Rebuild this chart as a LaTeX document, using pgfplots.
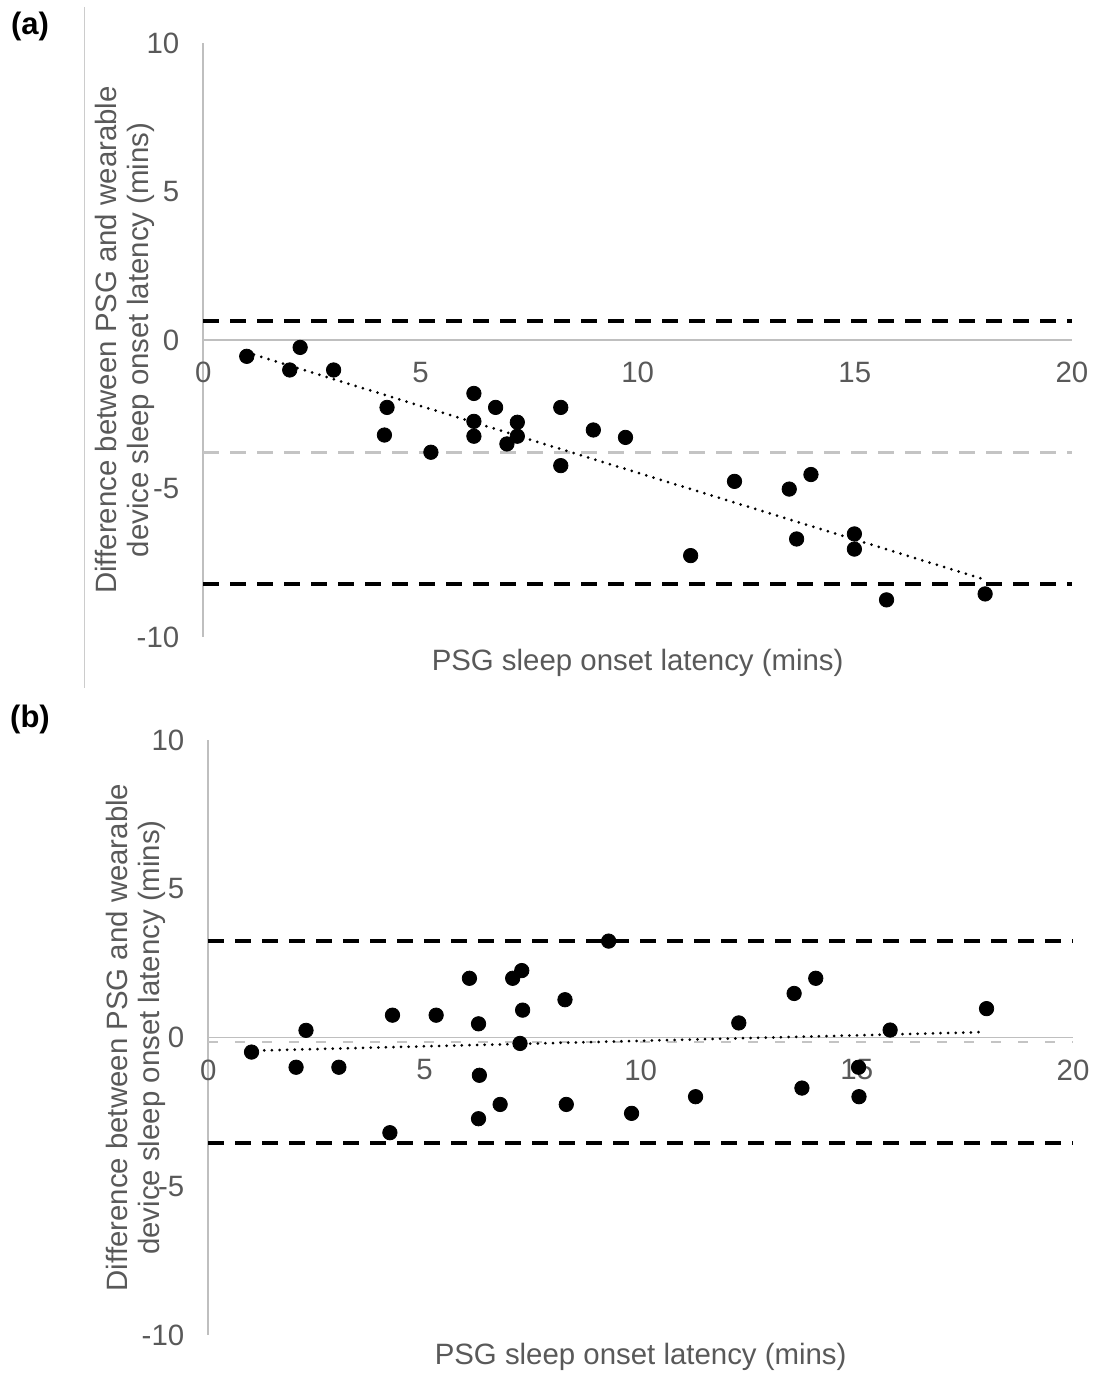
\documentclass[border=0pt]{standalone}
\usepackage{fontspec}
\setmainfont{Liberation Sans}
\usepackage{pgfplots}
\pgfplotsset{compat=1.18}
\definecolor{axgrey}{HTML}{BFBFBF}
\definecolor{txtgrey}{HTML}{595959}
\definecolor{meangrey}{HTML}{C4C4C4}

\pgfplotsset{
  ba/.style={
    scale only axis,
    xmin=0, xmax=20, ymin=-10, ymax=10,
    xtick={0,5,...,20}, ytick={-10,-5,...,10},
    axis lines=middle,
    axis line style={draw=axgrey, line width=0.9pt, -},
    major tick length=0pt,
    hide obscured x ticks=false, hide obscured y ticks=false,
    /pgf/number format/assume math mode=true,
    tick label style={font=\fontsize{14.7}{16}\selectfont, text=txtgrey},
    xticklabel style={anchor=north, yshift=-7.5pt},
    yticklabel style={anchor=east, xshift=-8.5pt},
    clip=false,
    every axis x label/.style={at={(axis description cs:0.5,0)}, anchor=base,
      yshift=-17pt, font=\fontsize{14.7}{16}\selectfont, text=txtgrey},
    xlabel={PSG sleep onset latency (mins)},
    ylabel={Difference between PSG and wearable\\device sleep onset latency (mins)},
  },
  limitline/.style={black, line width=2pt, dash pattern=on 8pt off 5.5pt},
  dots/.style={only marks, mark=*, mark size=3.6pt, black},
  trend/.style={black, line width=1.5pt, dash pattern=on 0pt off 3.8pt, line cap=round},
}

\begin{document}
\begin{tikzpicture}
\path[use as bounding box] (0,0) rectangle (549.5pt,688pt);
\draw[draw=axgrey!80, line width=0.5pt] (42.15pt,684.5pt) -- (42.15pt,344pt);
\node[font=\bfseries\fontsize{15.5}{17}\selectfont] at (15pt,674.5pt) {(a)};
\node[font=\bfseries\fontsize{15.5}{17}\selectfont] at (15pt,328.5pt) {(b)};

% panel (a)
\begin{axis}[ba, at={(101.65pt,369.5pt)}, anchor=south west,
  width=434.35pt, height=297pt,
  every axis y label/.style={at={(axis description cs:-0.0556,0.5)}, rotate=90,
    anchor=south, align=center, inner sep=0pt,
    font=\fontsize{14.7}{16}\selectfont, text=txtgrey},
]
\addplot[limitline] coordinates {(0,0.65) (20,0.65)};
\addplot[limitline] coordinates {(0,-8.22) (20,-8.22)};
\addplot[meangrey, line width=1.7pt, dash pattern=on 8pt off 5.5pt] coordinates {(0,-3.78) (20,-3.78)};
\addplot[trend] coordinates {(1.0,-0.42) (18.0,-8.07)};
\addplot[dots] coordinates {
  (1.00,-0.55) (2.23,-0.25) (1.99,-1.01) (3.00,-1.01) (4.23,-2.27)
  (4.17,-3.20) (5.24,-3.78) (6.23,-1.80) (6.23,-2.74) (6.23,-3.24)
  (6.73,-2.27) (7.23,-2.77) (7.23,-3.24) (6.99,-3.50) (8.23,-2.27)
  (8.23,-4.23) (8.98,-3.03) (9.72,-3.28) (11.22,-7.26) (12.23,-4.76)
  (13.49,-5.02) (13.99,-4.53) (13.66,-6.70) (14.99,-6.53) (14.99,-7.04)
  (15.73,-8.75) (18.00,-8.55)
};
\end{axis}

% panel (b)
\begin{axis}[ba, at={(104.15pt,20.5pt)}, anchor=south west,
  width=432.35pt, height=297.5pt,
  every axis y label/.style={at={(axis description cs:-0.0486,0.5)}, rotate=90,
    anchor=south, align=center, inner sep=0pt,
    font=\fontsize{14.7}{16}\selectfont, text=txtgrey},
  every axis x label/.style={at={(axis description cs:0.5,0)}, anchor=base,
    yshift=-15pt, font=\fontsize{14.7}{16}\selectfont, text=txtgrey},
]
\addplot[limitline] coordinates {(0,3.24) (20,3.24)};
\addplot[limitline] coordinates {(0,-3.56) (20,-3.56)};
\addplot[meangrey, line width=0.9pt, dash pattern=on 5pt off 8.5pt] coordinates {(0,-0.16) (20,-0.16)};
\addplot[trend] coordinates {(1.12,-0.44) (17.89,0.18)};
\addplot[dots] coordinates {
  (1.00,-0.49) (2.26,0.24) (2.03,-1.00) (3.02,-1.00) (4.26,0.75)
  (4.20,-3.20) (5.27,0.75) (6.04,1.99) (6.25,0.46) (6.27,-1.27)
  (6.25,-2.73) (6.75,-2.25) (7.04,1.99) (7.25,2.25) (7.27,0.92)
  (7.21,-0.20) (8.25,1.27) (8.28,-2.25) (9.26,3.24) (9.79,-2.55)
  (11.27,-1.99) (12.27,0.49) (13.55,1.48) (14.05,1.99) (13.73,-1.70)
  (15.04,-1.00) (15.05,-1.99) (15.77,0.25) (18.00,0.97)
};
\end{axis}
\end{tikzpicture}
\end{document}
